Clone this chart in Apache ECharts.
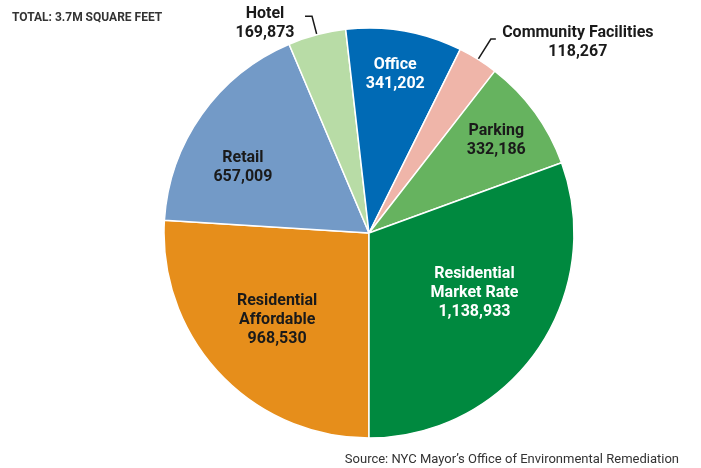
<!DOCTYPE html>
<html><head><meta charset="utf-8">
<script src="https://cdn.jsdelivr.net/npm/echarts@6/dist/echarts.min.js"></script>
<style>html,body{margin:0;padding:0;background:#fff}#c{width:701px;height:468px}</style>
</head><body><div id="c"></div>
<script>
const categories = ["Residential\nAffordable","Retail","Hotel","Office","Community Facilities","Parking","Residential\nMarket Rate"];
const values = [968530, 657009, 169873, 341202, 118267, 332186, 1138933];
const colors = ["#E68E1B","#739AC7","#B8DCA6","#006AB5","#EFB5A9","#66B35F","#00893F"];
const outsideIdx = [2, 4];
const whiteText = [3, 6];
const labelShift = {0:[-15,15], 1:[-40,-5], 3:[8,-55], 5:[42,-30], 6:[19,0]};
const FONT = "Roboto";
const chart = echarts.init(document.getElementById('c'));
const data = categories.map((n, i) => {
  const outside = outsideIdx.includes(i);
  const item = {name: n, value: values[i], itemStyle: {color: colors[i]}};
  if (outside) {
    item.label = {position: 'outside', padding: i === 2 ? [14, 0, 0, 0] : [6, 0, 0, 0]};
    item.labelLine = {show: true, length: i === 2 ? 19 : 24, length2: i === 2 ? 7 : 5};
  } else {
    item.label = {position: 'inside', color: whiteText.includes(i) ? '#fff' : '#1a1a1a'};
    item.labelLine = {show: false};
  }
  return item;
});
const richBase = {fontFamily: FONT, fontSize: 16, fontWeight: 'bold', lineHeight: 19, color: '#1a1a1a', align: 'center'};
chart.setOption({
  animation: false,
  title: [
    {text: 'TOTAL: 3.7M SQUARE FEET', left: 7, top: 7, textStyle: {fontFamily: FONT, fontSize: 12, fontWeight: 'bold', color: '#333'}},
    {text: 'Source: NYC Mayor\u2019s Office of Environmental Remediation', right: 17, top: 448, textStyle: {fontFamily: FONT, fontSize: 13, fontWeight: 'normal', color: '#333'}}
  ],
  series: [{
    type: 'pie',
    center: [369, 233],
    radius: 205,
    startAngle: -90,
    clockwise: true,
    avoidLabelOverlap: false,
    itemStyle: {borderColor: '#fff', borderWidth: 1.5},
    label: {
      show: true,
      fontFamily: FONT, fontSize: 16, fontWeight: 'bold', lineHeight: 19,
      color: '#1a1a1a',
      formatter: p => {
        const v = p.value.toLocaleString('en-US');
        if (p.dataIndex === 2) return '{h|' + p.name + '}\n{h|' + v + '}';
        if (p.dataIndex === 4) return '{cf|' + p.name + '}\n{cf|' + v + '}';
        return p.name + '\n' + v;
      },
      rich: {
        h: Object.assign({}, richBase, {width: 70}),
        cf: Object.assign({}, richBase, {width: 154})
      }
    },
    labelLine: {lineStyle: {color: '#1a1a1a', width: 1.5}, smooth: false},
    labelLayout: p => {
      const s = labelShift[p.dataIndex];
      return s ? {dx: s[0], dy: s[1]} : {};
    },
    data: data
  }]
});
</script></body></html>
